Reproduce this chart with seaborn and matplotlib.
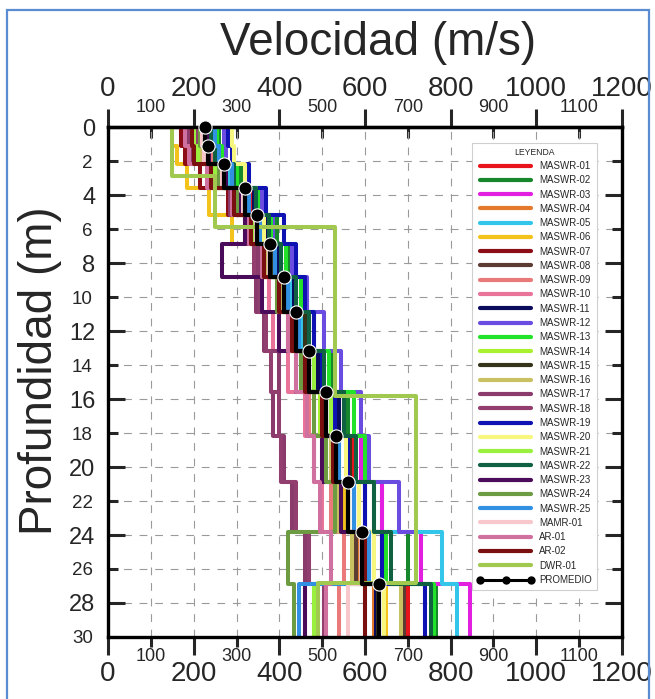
import matplotlib
matplotlib.use('Agg')
import matplotlib.pyplot as plt
from matplotlib.lines import Line2D
from matplotlib.patches import Rectangle
import pandas as pd
import seaborn as sns

# ── Datos: techo de capas (m) y velocidades Vs (m/s) ─────────
capas = [0, 1.1, 2.2, 3.6, 5.2, 6.9, 8.8, 10.9, 13.2, 15.6, 18.2, 20.9, 23.8, 26.9]
capas_dwr = [0, 2.9, 5.9, 15.8, 26.8]
prof_max = 30

v_maswr01 = [240, 250, 290, 335, 365, 395, 430, 455, 485, 540, 570, 600, 640, 700]
v_maswr02 = [260, 270, 310, 360, 395, 420, 450, 480, 520, 560, 600, 640, 700, 765]
v_maswr03 = [250, 255, 300, 345, 370, 400, 440, 470, 500, 550, 590, 640, 730, 845]
v_maswr04 = [225, 230, 265, 315, 345, 375, 405, 440, 465, 500, 525, 555, 585, 620]
v_maswr05 = [235, 245, 285, 330, 370, 390, 425, 450, 490, 530, 560, 600, 780, 815]
v_maswr06 = [150, 160, 185, 235, 290, 345, 395, 430, 460, 500, 520, 550, 580, 650]
v_maswr07 = [170, 180, 215, 280, 330, 365, 400, 430, 465, 500, 530, 575, 600, 600]
v_maswr08 = [210, 215, 250, 300, 335, 365, 400, 425, 455, 495, 520, 545, 580, 690]
v_maswr09 = [230, 240, 275, 320, 350, 375, 400, 420, 450, 470, 500, 520, 550, 540]
v_maswr10 = [215, 225, 260, 305, 340, 360, 375, 385, 420, 460, 480, 500, 520, 510]
v_maswr11 = [245, 250, 290, 340, 370, 400, 435, 460, 490, 540, 560, 600, 640, 625]
v_maswr12 = [270, 275, 320, 360, 385, 430, 465, 505, 545, 590, 610, 680, 720, 740]
v_maswr13 = [255, 265, 300, 350, 380, 415, 450, 480, 515, 575, 600, 620, 650, 760]
v_maswr14 = [200, 205, 245, 300, 330, 360, 395, 425, 455, 495, 540, 560, 600, 480]
v_maswr15 = [230, 235, 270, 320, 350, 385, 420, 460, 500, 550, 565, 575, 610, 630]
v_maswr16 = [210, 220, 255, 305, 335, 370, 405, 440, 470, 505, 520, 540, 570, 685]
v_maswr17 = [190, 195, 230, 285, 320, 350, 345, 365, 400, 385, 410, 430, 460, 460]
v_maswr18 = [205, 210, 245, 300, 330, 340, 355, 370, 380, 400, 405, 440, 470, 505]
v_maswr19 = [280, 290, 330, 370, 410, 440, 460, 480, 500, 530, 560, 600, 640, 740]
v_maswr20 = [290, 295, 320, 345, 365, 390, 420, 440, 470, 520, 555, 585, 620, 645]
v_maswr21 = [200, 210, 250, 305, 340, 375, 410, 440, 480, 520, 540, 575, 610, 480]
v_maswr22 = [240, 250, 295, 345, 375, 405, 440, 470, 505, 550, 580, 620, 660, 755]
v_maswr23 = [230, 235, 275, 305, 320, 265, 360, 400, 440, 480, 500, 545, 600, 460]
v_maswr24 = [215, 225, 260, 300, 335, 360, 395, 420, 450, 480, 510, 530, 420, 435]
v_maswr25 = [250, 260, 290, 330, 355, 390, 420, 445, 470, 510, 540, 575, 610, 445]
v_mamr01 = [220, 225, 265, 315, 345, 375, 410, 440, 470, 510, 530, 560, 590, 560]
v_ar01 = [180, 190, 230, 290, 330, 360, 400, 420, 440, 465, 480, 495, 520, 510]
v_ar02 = [195, 200, 240, 295, 335, 365, 400, 430, 460, 500, 525, 560, 600, 600]
v_dwr01 = [150, 250, 530, 720, 490]
v_promedio = [226, 233, 271, 320, 348, 378, 411, 439, 469, 509, 532, 560, 593, 633]

nombres = ['MASWR-01', 'MASWR-02', 'MASWR-03', 'MASWR-04', 'MASWR-05', 'MASWR-06',
           'MASWR-07', 'MASWR-08', 'MASWR-09', 'MASWR-10', 'MASWR-11', 'MASWR-12',
           'MASWR-13', 'MASWR-14', 'MASWR-15', 'MASWR-16', 'MASWR-17', 'MASWR-18',
           'MASWR-19', 'MASWR-20', 'MASWR-21', 'MASWR-22', 'MASWR-23', 'MASWR-24',
           'MASWR-25', 'MAMR-01', 'AR-01', 'AR-02', 'DWR-01']
colores = ['#e8141c', '#17872b', '#e21fe0', '#e2792c', '#33c6ea', '#f3c21b',
           '#8c0d16', '#5c3b33', '#ea7a7a', '#ea7399', '#0b0b5e', '#6b4ce0',
           '#22e22a', '#a9f02f', '#35341a', '#c9c162', '#8a3b6b', '#923f70',
           '#0f12b2', '#f7f77f', '#9af03f', '#0f6141', '#4b0b5b', '#6c9b41',
           '#3190e2', '#f7c7cb', '#d0709f', '#7a0f10', '#a2c94f']
perfiles = [v_maswr01, v_maswr02, v_maswr03, v_maswr04, v_maswr05, v_maswr06,
            v_maswr07, v_maswr08, v_maswr09, v_maswr10, v_maswr11, v_maswr12,
            v_maswr13, v_maswr14, v_maswr15, v_maswr16, v_maswr17, v_maswr18,
            v_maswr19, v_maswr20, v_maswr21, v_maswr22, v_maswr23, v_maswr24,
            v_maswr25, v_mamr01, v_ar01, v_ar02, v_dwr01]


def escalones(nombre, vel, techos):
    # each layer -> two points (top, bottom) at the same velocity
    bases = techos[1:] + [prof_max]
    filas = []
    for v, t, b in zip(vel, techos, bases):
        filas.append((nombre, v, t))
        filas.append((nombre, v, b))
    return filas


filas = []
for nombre, vel in zip(nombres, perfiles):
    filas += escalones(nombre, vel, capas_dwr if nombre == 'DWR-01' else capas)
df = pd.DataFrame(filas, columns=['perfil', 'vel', 'prof'])
df_prom = pd.DataFrame(escalones('PROMEDIO', v_promedio, capas), columns=['perfil', 'vel', 'prof'])
df_marc = pd.DataFrame({'vel': v_promedio, 'prof': capas})

# ── Figure ───────────────────────────────────────────────────
sns.set_style('white')
plt.rcParams['font.family'] = ['Liberation Sans', 'DejaVu Sans']

fig = plt.figure(figsize=(6.55, 6.99), dpi=100)
ax = fig.add_axes([0.1649, 0.0887, 0.7847, 0.7296])

paleta = dict(zip(nombres, colores))
sns.lineplot(data=df, x='vel', y='prof', hue='perfil', hue_order=nombres, palette=paleta,
             sort=False, estimator=None, lw=2.9, legend=False, ax=ax)
sns.lineplot(data=df_prom, x='vel', y='prof', color='black', sort=False, estimator=None,
             lw=3.0, legend=False, ax=ax)
sns.scatterplot(data=df_marc, x='vel', y='prof', color='black', s=90, edgecolor='white',
                linewidth=0.8, zorder=5, clip_on=False, ax=ax)

ax.set_xlim(0, 1200)
ax.set_ylim(30, 0)
ax.set_xlabel('')
ax.set_ylabel('')

# bottom x axis
x_may = list(range(0, 1201, 200))
x_men = list(range(100, 1200, 200))
ax.set_xticks(x_may, [str(t) for t in x_may])
ax.set_xticks(x_men, [str(t) for t in x_men], minor=True)
ax.tick_params(axis='x', which='major', direction='out', length=13, width=2.2,
               labelsize=20, pad=4, top=False, bottom=True)
ax.tick_params(axis='x', which='minor', direction='out', length=7, width=2.2,
               labelsize=13, pad=1, top=False, bottom=True)

# top x axis
sec = ax.secondary_xaxis('top')
sec.set_xticks(x_may, [str(t) for t in x_may])
sec.set_xticks(x_men, [str(t) for t in x_men], minor=True)
sec.tick_params(axis='x', which='major', direction='out', length=13, width=2.2,
                labelsize=20, pad=5)
sec.tick_params(axis='x', which='minor', direction='in', length=8, width=2.2,
                labelsize=13, pad=8)
sec.spines['top'].set_linewidth(2.4)

# y axis
y_may = list(range(0, 30, 4))
y_men = list(range(2, 31, 4))
ax.set_yticks(y_may, [str(t) for t in y_may])
ax.set_yticks(y_men, [str(t) for t in y_men], minor=True)
ax.tick_params(axis='y', which='major', direction='in', length=12, width=2.2,
               labelsize=17, pad=9, left=True, right=True, labelright=False)
ax.tick_params(axis='y', which='minor', direction='in', length=7, width=2.2,
               labelsize=13.5, pad=11, left=True, right=True, labelright=False)

for s in ax.spines.values():
    s.set_linewidth(2.4)
    s.set_color('black')

ax.grid(True, which='both', color='#9a9a9a', linestyle=(0, (7, 7)), linewidth=0.8)
ax.set_axisbelow(True)

# legend
handles = [Line2D([], [], color=c, lw=3) for c in colores]
handles.append(Line2D([], [], color='black', lw=2.2, marker='o', markersize=5))
leg = ax.legend(handles, nombres + ['PROMEDIO'], title='LEYENDA', loc='upper right',
                bbox_to_anchor=(0.951, 0.969), borderaxespad=0, fontsize=7,
                title_fontsize=6.2, handlelength=5.9, handletextpad=0.5,
                labelspacing=0.44, numpoints=3, fancybox=False, framealpha=1,
                edgecolor='#cfcfcf', borderpad=0.5)
leg.get_frame().set_linewidth(0.8)
leg.set_zorder(10)

fig.text(378 / 655, 1 - 43 / 699, 'Velocidad (m/s)', fontsize=33, ha='center', va='center')
fig.text(40 / 655, 1 - 371 / 699, 'Profundidad (m)', fontsize=33, ha='center', va='center',
         rotation=90)

# blue frame around the picture
fig.patches.append(Rectangle((7 / 655, -0.01), 642 / 655, 1 - 10 / 699 + 0.01,
                             transform=fig.transFigure, fill=False,
                             edgecolor='#5b8bd0', lw=1.6))

fig.savefig('out.png', dpi=100)
